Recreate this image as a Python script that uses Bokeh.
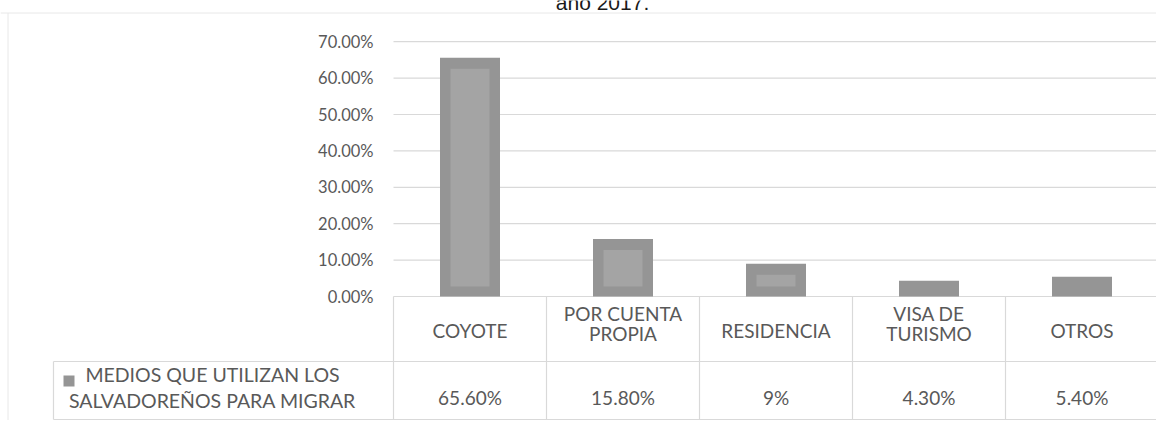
from bokeh.plotting import figure
from bokeh.models import Range1d
from bokeh.core.properties import value
from bokeh.embed import file_html
from bokeh.resources import INLINE

# ---------------- data ----------------
title_text = "año 2017."
categories = ["COYOTE", "POR CUENTA\nPROPIA", "RESIDENCIA", "VISA DE\nTURISMO", "OTROS"]
values = [0.656, 0.158, 0.09, 0.043, 0.054]
value_labels = ["65.60%", "15.80%", "9%", "4.30%", "5.40%"]
series_name = "MEDIOS QUE UTILIZAN LOS\nSALVADOREÑOS PARA MIGRAR"
y_ticks = [0.0, 0.1, 0.2, 0.3, 0.4, 0.5, 0.6, 0.7]
y_tick_labels = ["0.00%", "10.00%", "20.00%", "30.00%", "40.00%", "50.00%", "60.00%", "70.00%"]

# ---------------- layout (picture pixels) ----------------
W, H = 1156, 420
PLOT_LEFT = 393.0
COL_W = 153.0
ZERO_Y = 296.0
PX_PER_UNIT = 364.0


def dx(px):
    return (px - PLOT_LEFT) / COL_W


def dy(py):
    return (ZERO_Y - py) / PX_PER_UNIT


TEXT_COLOR = "#595959"
GRID_COLOR = "#d9d9d9"
BAR_OUTER = "#959595"
BAR_INNER = "#a4a4a4"
FONT = value("Lato")

p = figure(width=W, height=H,
           x_range=Range1d(dx(0), dx(W)),
           y_range=Range1d(dy(H), dy(0)),
           output_backend="svg", toolbar_location=None,
           x_axis_type=None, y_axis_type=None, min_border=0,
           outline_line_color=None, background_fill_color="white",
           border_fill_color="white")

n = len(categories)
xs = [i + 0.5 for i in range(n)]

# outer chart border (top, left)
p.segment(x0=[dx(0), dx(7.5)], x1=[dx(W), dx(7.5)],
          y0=[dy(12.5), dy(12.5)], y1=[dy(12.5), dy(H)],
          line_color="#e8e8e8", line_width=1)

# gridlines
p.segment(x0=[0] * len(y_ticks), x1=[n] * len(y_ticks), y0=y_ticks, y1=y_ticks,
          line_color=GRID_COLOR, line_width=1.2)

# bars
BAR_W = 60.0 / COL_W
p.vbar(x=xs, width=BAR_W, top=values, bottom=0, fill_color=BAR_OUTER, line_color=None)
in_x = 10.5 / COL_W
in_top = 11.0 / PX_PER_UNIT
in_bot = 10.0 / PX_PER_UNIT
ix, itop = [], []
for x, v in zip(xs, values):
    if v - in_top > in_bot:
        ix.append(x)
        itop.append(v - in_top)
p.vbar(x=ix, width=BAR_W - 2 * in_x, top=itop, bottom=in_bot, fill_color=BAR_INNER, line_color=None)

# data table lines
ROW_SEP = 361.0
BOTTOM = 419.0
LEG_LEFT = 53.0
hx0 = [dx(LEG_LEFT), dx(LEG_LEFT)]
hx1 = [n, n]
hy = [dy(ROW_SEP), dy(BOTTOM)]
p.segment(x0=hx0, x1=hx1, y0=hy, y1=hy, line_color=GRID_COLOR, line_width=1.2)
vx = list(range(n + 1))
p.segment(x0=vx, x1=vx, y0=[0] * len(vx), y1=[dy(BOTTOM)] * len(vx),
          line_color=GRID_COLOR, line_width=1.2)
p.segment(x0=[dx(LEG_LEFT)], x1=[dx(LEG_LEFT)], y0=[dy(ROW_SEP)], y1=[dy(BOTTOM)],
          line_color=GRID_COLOR, line_width=1.2)

# y tick labels
p.text(x=[dx(373)] * len(y_ticks), y=y_ticks, text=y_tick_labels,
       text_align="right", text_baseline="middle", text_font=FONT,
       text_font_size="16.5px", text_color=TEXT_COLOR)

# header cells (single lines sit a little lower than wrapped ones)
head_y = [dy(323) if "\n" in c else dy(330) for c in categories]
p.text(x=xs, y=head_y, text=categories, text_align="center",
       text_baseline="middle", text_font=FONT, text_font_size="19px",
       text_color=TEXT_COLOR, text_line_height=0.88)

# value cells
p.text(x=xs, y=[dy(397)] * n, text=value_labels, text_align="center",
       text_baseline="middle", text_font=FONT, text_font_size="19px",
       text_color=TEXT_COLOR)

# legend key + series name
p.quad(left=[dx(63)], right=[dx(74)], top=[dy(375)], bottom=[dy(386)],
       fill_color=BAR_OUTER, line_color=None)
p.text(x=[dx(212)], y=[dy(387)], text=[series_name], text_align="center",
       text_baseline="middle", text_font=FONT, text_font_size="19.5px",
       text_color=TEXT_COLOR, text_line_height=1.13)

# title (cut at the top, as in the reference)
p.text(x=[dx(602)], y=[dy(1.5)], text=[title_text], text_align="center",
       text_baseline="alphabetic", text_font=value("Liberation Sans"),
       text_font_size="21px", text_color="#1a1a1a")

open("out.html", "w").write(file_html(p, INLINE))
